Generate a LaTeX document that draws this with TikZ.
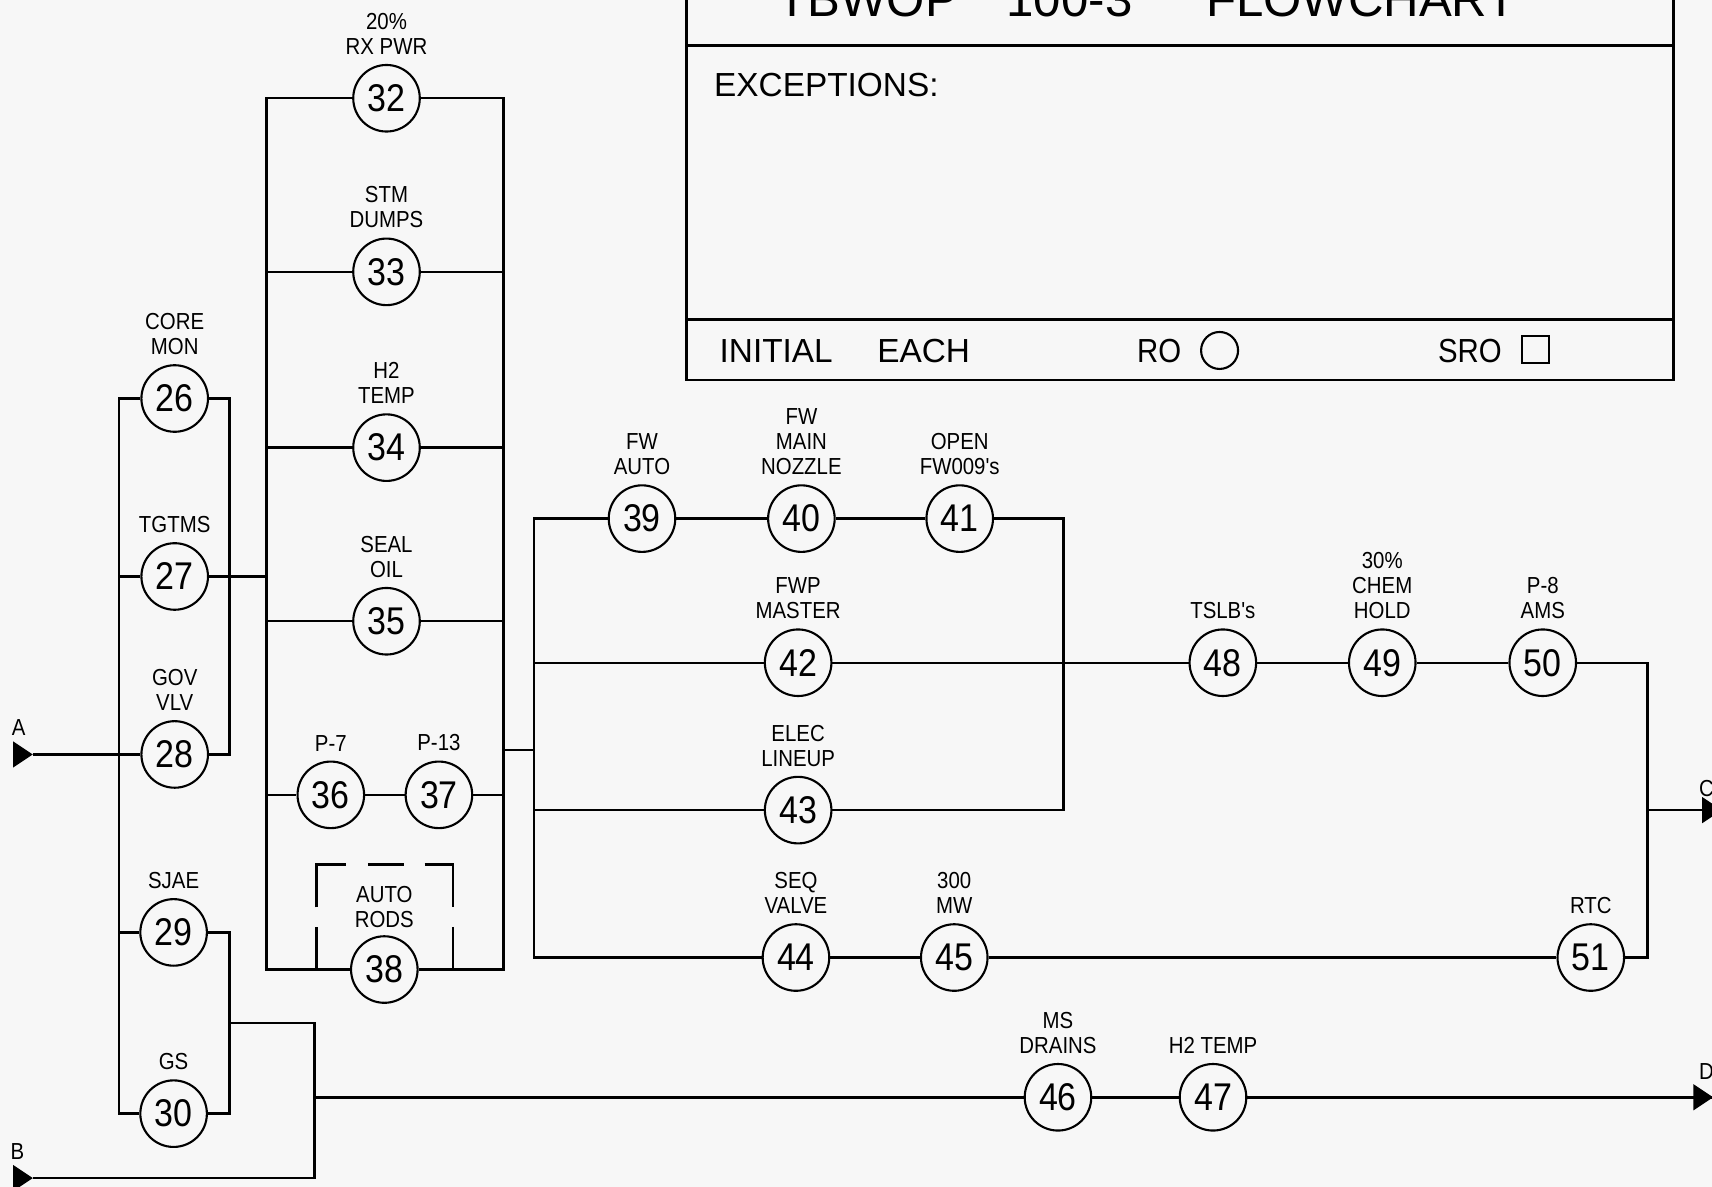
\documentclass[tikz,border=0pt]{standalone}
\usepackage{fontspec}
\setmainfont{Liberation Sans}
\newfontfamily\plotfont{Liberation Sans}[FakeStretch=0.88]
\usetikzlibrary{positioning}
\definecolor{paper}{RGB}{247,247,247}

\tikzset{
  stn/.style={draw, circle, line width=0.6pt, minimum size=0.666cm, inner sep=0pt,
    font=\plotfont\fontsize{11}{12}\selectfont},
  tag/.style={align=center, inner sep=0pt, above=2.3pt of #1,
    font=\plotfont\fontsize{6.6}{7.14}\selectfont},
  lbl/.style={align=center, inner sep=0pt, font=\plotfont\fontsize{6.6}{7.14}\selectfont},
  boxtext/.style={anchor=base west, inner sep=0pt, font=\fontsize{9.5}{11}\selectfont}
}

\begin{document}
\begin{tikzpicture}[x=0.010918cm, y=-0.010918cm, line width=0.7pt]

\useasboundingbox (0,0) rectangle (1568,1087);
\clip (0,0) rectangle (1568,1087);
\fill[paper] (0,0) rectangle (1568,1087);

% title block
\draw[line width=0.8pt] (629,-60) rectangle (1533,348);
\draw[line width=0.8pt] (629,42) -- (1533,42) (629,293) -- (1533,293);
\node[anchor=base west, inner sep=0pt, font=\fontsize{14}{16}\selectfont] (title) at (711,15)
  {TBWOP\hspace{13.9pt}100-3\hspace{21pt}FLOWCHART};
\node[boxtext] (exc) at (653,88) {EXCEPTIONS:};
\node[boxtext] (init) at (658,332) {INITIAL\hspace{12.7pt}EACH};
\node[boxtext, anchor=base east, font=\plotfont\fontsize{9.5}{11}\selectfont] (ro) at (1083,332) {RO};
\node[draw, circle, line width=0.6pt, minimum size=0.37cm, inner sep=0pt] (roring) at (1117,321) {};
\node[boxtext, font=\plotfont\fontsize{9.5}{11}\selectfont] (sro) at (1316,332) {SRO};
\node[draw, rectangle, line width=0.6pt, minimum size=0.27cm, inner sep=0pt] (srobox) at (1406,320) {};

% stations
\node[stn] (s26) at (160,365) {26};
\node[stn] (s27) at (160,528) {27};
\node[stn] (s28) at (160,691) {28};
\node[stn] (s29) at (159,854) {29};
\node[stn] (s30) at (159,1020) {30};
\node[stn] (s32) at (354,90) {32};
\node[stn] (s33) at (354,249) {33};
\node[stn] (s34) at (354,410) {34};
\node[stn] (s35) at (354,569) {35};
\node[stn] (s36) at (303,728) {36};
\node[stn] (s37) at (402,728) {37};
\node[stn] (s38) at (352,888) {38};
\node[stn] (s39) at (588,475) {39};
\node[stn] (s40) at (734,475) {40};
\node[stn] (s41) at (879,475) {41};
\node[stn] (s42) at (731,607) {42};
\node[stn] (s43) at (731,742) {43};
\node[stn] (s44) at (729,877) {44};
\node[stn] (s45) at (874,877) {45};
\node[stn] (s46) at (969,1005) {46};
\node[stn] (s47) at (1111,1005) {47};
\node[stn] (s48) at (1120,607) {48};
\node[stn] (s49) at (1266,607) {49};
\node[stn] (s50) at (1413,607) {50};
\node[stn] (s51) at (1457,877) {51};

% captions
\node[tag=s26] (t26) {CORE\\MON};
\node[tag=s27] (t27) {TGTMS};
\node[tag=s28] (t28) {GOV\\VLV};
\node[tag=s29] (t29) {SJAE};
\node[tag=s30] (t30) {GS};
\node[tag=s32] (t32) {20\%\\RX PWR};
\node[tag=s33] (t33) {STM\\DUMPS};
\node[tag=s34] (t34) {H2\\TEMP};
\node[tag=s35] (t35) {SEAL\\OIL};
\node[tag=s36] (t36) {P-7};
\node[tag=s37] (t37) {P-13};
\node[lbl] (t38) at (352,831) {AUTO\\RODS};
\node[tag=s39] (t39) {FW\\AUTO};
\node[tag=s40] (t40) {FW\\MAIN\\NOZZLE};
\node[tag=s41] (t41) {OPEN\\FW009's};
\node[tag=s42] (t42) {FWP\\MASTER};
\node[tag=s43] (t43) {ELEC\\LINEUP};
\node[tag=s44] (t44) {SEQ\\VALVE};
\node[tag=s45] (t45) {300\\MW};
\node[tag=s46] (t46) {MS\\DRAINS};
\node[tag=s47] (t47) {H2 TEMP};
\node[tag=s48] (t48) {TSLB's};
\node[tag=s49] (t49) {30\%\\CHEM\\HOLD};
\node[tag=s50] (t50) {P-8\\AMS};
\node[tag=s51] (t51) {RTC};

% off-page connectors
\coordinate (inA) at (30,691);
\coordinate (inB) at (30,1079);
\coordinate (outC) at (1577,742);
\coordinate (outD) at (1569,1005);
\node[lbl] (labA) at (17,666) {A};
\node[lbl] (labB) at (16,1055) {B};
\node[lbl] (labC) at (1563,722) {C};
\node[lbl] (labD) at (1563,981) {D};
\foreach \p in {inA,inB,outC,outD}
  \fill (\p) -- ++(-18,-12) -- ++(0,24) -- cycle;

% buses and junctions
\coordinate (busL) at (109,0);
\coordinate (busM) at (210,0);
\coordinate (busN) at (244,0);
\coordinate (busO) at (461,0);
\coordinate (busP) at (489,0);
\coordinate (busQ) at (974,0);
\coordinate (busR) at (1509,0);
\coordinate (jB1) at (288,937);
\coordinate (jB2) at (288,1005);
\coordinate (j2) at (461,687);

\draw (inA) -- (s28.west);
\draw (s26.west) -| (busL |- s30) -- (s30.west);
\draw (s27.west) -- (s27 -| busL);
\draw (s29.west) -- (s29 -| busL);
\draw (s26.east) -| (busM |- s28) -- (s28.east);
\draw (s29.east) -| (busM |- s30) -- (s30.east);
\draw (s27.east) -- (s27 -| busN);
\draw (jB1 -| busM) -- (jB1) |- (inB);
\draw (jB2) -- (s46) -- (s47) -- (outD);

\draw (s32.west) -| (busN |- s38) -- (s38.west);
\draw (s32.east) -| (busO |- s38) -- (s38.east);
\foreach \n in {33,34,35}
  \draw (s\n -| busN) -- (s\n) -- (s\n -| busO);
\draw (s36 -| busN) -- (s36) -- (s37) -- (s37 -| busO);
\draw (290,888) -- (290,849) (290,831) -- (290,792) -- (317,792)
      (337,792) -- (370,792) (389,792) -- (415,792) -- (415,831)
      (415,849) -- (415,888);
\draw (j2) -- (j2 -| busP);

\draw (s39.west) -| (busP |- s44) -- (s44.west);
\draw (s39) -- (s40) -- (s41);
\draw (s41.east) -| (busQ |- s43) -- (s43.east);
\draw (s42 -| busP) -- (s42) -- (s48) -- (s49) -- (s50);
\draw (s43 -| busP) -- (s43);
\draw (s44) -- (s45) -- (s51);
\draw (s50.east) -| (busR |- s51) -- (s51.east);
\draw (busR |- outC) -- (outC);

\end{tikzpicture}
\end{document}
